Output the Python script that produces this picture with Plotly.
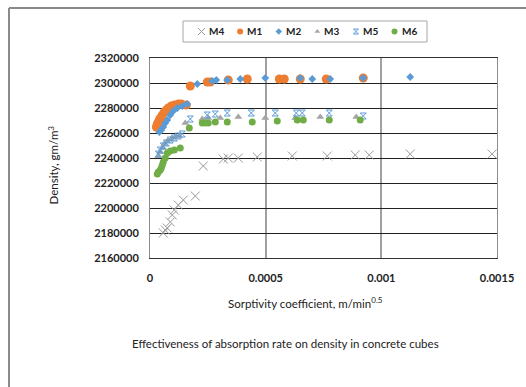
import plotly.graph_objects as go

# Sorptivity coefficient (m/min^0.5) and density (gm/m^3) for each mix
m4_x = [5.75e-5, 6.61e-5, 7.48e-5, 8.77e-5, 9.64e-5, 1.050e-4, 1.223e-4, 1.439e-4, 1.958e-4,
        2.303e-4, 3.168e-4, 3.384e-4, 3.816e-4, 4.637e-4, 6.150e-4, 7.662e-4, 8.872e-4,
        9.477e-4, 1.125e-3, 1.479e-3]
m4_y = [2180000, 2182400, 2184000, 2188800, 2194400, 2198400, 2202400, 2206400, 2209600,
        2233600, 2239200, 2240000, 2240000, 2240800, 2241600, 2241600, 2242400,
        2242400, 2243200, 2243200]

m1_x = [2.72e-5, 3.15e-5, 3.59e-5, 4.02e-5, 4.45e-5, 5.32e-5, 6.18e-5, 7.04e-5, 7.91e-5,
        9.20e-5, 1.058e-4, 1.230e-4, 1.353e-4, 1.569e-4, 1.742e-4, 2.476e-4, 2.606e-4,
        3.384e-4, 4.205e-4, 5.588e-4, 5.804e-4, 6.496e-4, 7.619e-4, 9.218e-4]
m1_y = [2264800, 2267200, 2268800, 2270400, 2272000, 2274400, 2276800, 2278400, 2280000,
        2281600, 2282400, 2283200, 2283200, 2282400, 2297600, 2300800, 2300800,
        2302400, 2303200, 2303200, 2303200, 2303200, 2303200, 2304000]

m2_x = [4.02e-5, 4.88e-5, 5.75e-5, 6.61e-5, 7.48e-5, 8.77e-5, 1.007e-4, 1.180e-4, 1.396e-4,
        1.612e-4, 2.044e-4, 2.692e-4, 2.865e-4, 3.341e-4, 3.903e-4, 4.983e-4, 6.495e-4,
        7.014e-4, 7.792e-4, 9.218e-4, 1.1249e-3]
m2_y = [2260800, 2262400, 2264800, 2268000, 2270400, 2274400, 2277600, 2280000, 2281600,
        2283200, 2299200, 2301600, 2302400, 2302400, 2303200, 2304000, 2304000,
        2303200, 2303200, 2304000, 2304800]

m3_x = [3.59e-5, 4.45e-5, 5.32e-5, 6.18e-5, 7.48e-5, 9.20e-5, 1.093e-4, 1.266e-4, 1.526e-4,
        2.260e-4, 2.519e-4, 3.038e-4, 3.816e-4, 4.983e-4, 6.279e-4, 7.360e-4, 8.916e-4]
m3_y = [2241600, 2244800, 2248000, 2251200, 2253600, 2255200, 2256800, 2257600, 2268000,
        2271200, 2272000, 2272000, 2272800, 2272000, 2272000, 2272800, 2272800]

m5_x = [3.59e-5, 4.45e-5, 5.75e-5, 7.04e-5, 8.77e-5, 1.050e-4, 1.223e-4, 1.396e-4, 1.742e-4,
        2.476e-4, 2.822e-4, 3.341e-4, 4.378e-4, 5.415e-4, 6.323e-4, 6.582e-4, 7.749e-4, 9.218e-4]
m5_y = [2243200, 2246400, 2249600, 2252000, 2254400, 2256000, 2257600, 2259200, 2271200,
        2274400, 2275200, 2276000, 2276000, 2276000, 2276000, 2276000, 2276000, 2273600]

m6_x = [3.15e-5, 3.59e-5, 4.45e-5, 4.88e-5, 5.32e-5, 5.75e-5, 6.61e-5, 7.48e-5, 8.77e-5,
        1.050e-4, 1.309e-4, 1.698e-4, 2.260e-4, 2.390e-4, 2.519e-4, 2.822e-4, 3.341e-4,
        4.421e-4, 5.501e-4, 6.366e-4, 6.625e-4, 7.749e-4, 9.088e-4]
m6_y = [2227200, 2228800, 2230400, 2232000, 2234400, 2236800, 2240000, 2244000, 2245600,
        2246400, 2248000, 2264000, 2268000, 2268000, 2268000, 2268800, 2268800,
        2268800, 2269600, 2270400, 2270400, 2270400, 2270400]

series_names = ["M4", "M1", "M2", "M3", "M5", "M6"]
x_tick_vals = [0, 0.0005, 0.001, 0.0015]
x_tick_text = ["0", "0.0005", "0.001", "0.0015"]

FONT = "Lato"
W, H = 526, 387

# marker style per series
styles = {
    "M4": dict(symbol="x-thin-open", size=9, color="#9a9a9a", line=dict(color="#9a9a9a", width=1)),
    "M1": dict(symbol="circle", size=9, color="#ED7D31"),
    "M2": dict(symbol="diamond", size=6, color="#5B9BD5"),
    "M3": dict(symbol="triangle-up", size=7, color="#A5A5A5"),
    "M5": dict(symbol="hourglass-open", size=6, color="#5B9BD5", line=dict(color="#5B9BD5", width=1)),
    "M6": dict(symbol="circle", size=7, color="#70AD47"),
}
legend_sizes = {"M4": 7, "M1": 6, "M2": 5, "M3": 5, "M5": 5, "M6": 6}
data = {"M4": (m4_x, m4_y), "M1": (m1_x, m1_y), "M2": (m2_x, m2_y),
        "M3": (m3_x, m3_y), "M5": (m5_x, m5_y), "M6": (m6_x, m6_y)}


def fx(px):
    return px / W


def fy(py):
    return 1 - py / H


fig = go.Figure()
for name in series_names:
    xs, ys = data[name]
    fig.add_trace(go.Scatter(x=xs, y=ys, mode="markers", name=name,
                             marker=styles[name], showlegend=False))

# key row: one slot per series on a hidden axis pair
slot_px = 38.6
box_l, box_r, box_t, box_b = 183, 427, 21, 42
annotations = []
for i, name in enumerate(series_names):
    key_marker = dict(styles[name])
    key_marker["size"] = legend_sizes[name]
    fig.add_trace(go.Scatter(x=[i + 0.48], y=[0.5], mode="markers", marker=key_marker,
                             xaxis="x2", yaxis="y2", showlegend=False, hoverinfo="skip"))
    annotations.append(dict(text=name, xref="x2", yref="y2", x=i + 0.61, y=0.5,
                            xanchor="left", yanchor="middle", showarrow=False,
                            font=dict(family=FONT, size=10, weight="bold", color="#222")))

annotations += [
    dict(text="Density, gm/m<sup>3</sup>", xref="paper", yref="paper",
         x=fx(43), y=fy(165), textangle=-90, showarrow=False,
         font=dict(family=FONT, size=11.5, color="#222")),
    dict(text="Sorptivity coefficient, m/min<sup>0.5</sup>", xref="paper", yref="paper",
         x=fx(305), y=fy(312), showarrow=False,
         font=dict(family=FONT, size=11.5, color="#222")),
    dict(text="Effectiveness of absorption rate on density in concrete cubes",
         xref="paper", yref="paper", x=fx(285), y=fy(352), showarrow=False,
         font=dict(family=FONT, size=11.5, color="#222")),
]

fig.update_layout(
    width=W, height=H,
    margin=dict(l=0, r=0, t=0, b=0, pad=0, autoexpand=False),
    paper_bgcolor="white", plot_bgcolor="white",
    font=dict(family=FONT, color="#222"),
    showlegend=False,
    xaxis=dict(
        domain=[fx(150), fx(497)], automargin=False,
        range=[0, 0.0015], tickvals=x_tick_vals, ticktext=x_tick_text,
        showgrid=True, gridcolor="#a0a0a0", gridwidth=1.5, zeroline=False,
        showline=True, linecolor="#333", linewidth=1, mirror=True,
        ticks="", ticklabelstandoff=10,
        tickfont=dict(family=FONT, size=11, weight="bold", color="#222"),
    ),
    yaxis=dict(
        domain=[fy(258), fy(58)], automargin=False,
        range=[2160000, 2320000], dtick=20000, tickformat="d",
        showgrid=True, gridcolor="#222", gridwidth=1, zeroline=False,
        showline=True, linecolor="#8c8c8c", linewidth=1, mirror=True,
        ticks="", ticklabelstandoff=8,
        tickfont=dict(family=FONT, size=11, weight="bold", color="#222"),
    ),
    xaxis2=dict(domain=[fx(box_l), fx(box_r)], range=[0, (box_r - box_l) / slot_px],
                anchor="y2", visible=False, fixedrange=True, automargin=False),
    yaxis2=dict(domain=[fy(box_b), fy(box_t)], range=[0, 1],
                anchor="x2", visible=False, fixedrange=True, automargin=False),
    annotations=annotations,
    shapes=[
        # chart-area frame (top and left edges fall inside the view)
        dict(type="line", xref="paper", yref="paper", x0=fx(9), x1=1.0, y0=fy(8), y1=fy(8),
             line=dict(color="#8a8a8a", width=2)),
        dict(type="line", xref="paper", yref="paper", x0=fx(9), x1=fx(9), y0=fy(8), y1=0,
             line=dict(color="#8a8a8a", width=2)),
        # key box
        dict(type="rect", xref="paper", yref="paper", x0=fx(box_l), x1=fx(box_r),
             y0=fy(box_b), y1=fy(box_t), line=dict(color="#a6a6a6", width=1),
             fillcolor="rgba(0,0,0,0)", layer="below"),
    ],
)

fig.write_html("out.html")
